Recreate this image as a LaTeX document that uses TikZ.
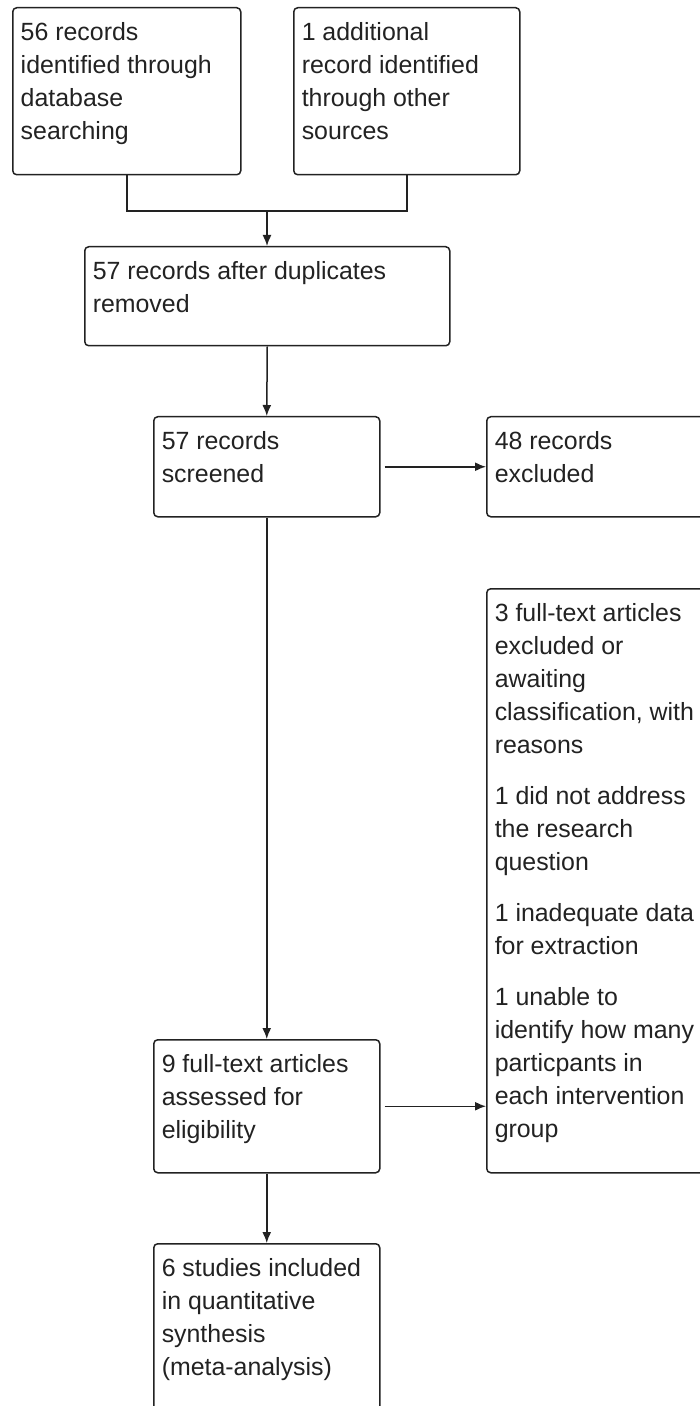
\documentclass[tikz,border=0pt]{standalone}
\usepackage{fontspec}
\setmainfont{Liberation Sans}
\usetikzlibrary{arrows.meta}
\definecolor{boxline}{HTML}{222222}
\definecolor{boxtext}{HTML}{222222}
\newlength\pxu
\setlength\pxu{0.5pt}
% text of a box: width, height (px), lines
\newcommand{\boxlines}[3]{\parbox[t][#2\pxu][t]{\dimexpr#1\pxu-16\pxu\relax}{\vspace{5pt}\raggedright\strut#3}}
\tikzset{
  box/.style={draw=boxline, line width=0.75pt, rounded corners=2pt, anchor=north west,
    inner xsep=4pt, inner ysep=0pt, text=boxtext, font=\fontsize{12.45pt}{16.5pt}\selectfont},
  link/.style={draw=boxline, line width=0.75pt},
  arr/.style={link, -{Latex[length=5.5pt,width=4.5pt]}}
}

\begin{document}
\begin{tikzpicture}[x=0.5pt, y=-0.5pt]
        \useasboundingbox (0,0) rectangle (700,1406);
        \clip (0,0) rectangle (700,1406);

        % draw boxes
        \node[box] (search) at (12,7) {\boxlines{228}{167}{56 records\\identified through\\database\\searching}};
        \node[box] (other) at (293,7) {\boxlines{226}{167}{1 additional\\record identified\\through other\\sources}};
        \node[box] (dedup) at (84,246) {\boxlines{365}{99}{57 records after duplicates\\removed}};
        \node[box] (screen) at (153,416) {\boxlines{226}{100}{57 records\\screened}};
        \node[box] (excl) at (486,416) {\boxlines{234}{100}{48 records\\excluded}};
        \node[box] (ftexcl) at (486,588) {\boxlines{234}{584}{3 full-text articles\\excluded or\\awaiting\\classification, with\\reasons\\[9pt]1 did not address\\the research\\question\\[9pt]1 inadequate data\\for extraction\\[9pt]1 unable to\\identify how many\\particpants in\\each intervention\\group}};
        \node[box] (fulltext) at (153,1039) {\boxlines{226}{133}{9 full-text articles\\assessed for\\eligibility}};
        \node[box] (incl) at (153,1243) {\boxlines{226}{200}{6 studies included\\in quantitative\\synthesis\\(meta-analysis)}};

        % draw connectors
        \coordinate (join) at (267,211);
        \draw[link] (search.south) |- (join) -| (other.south);
        \draw[arr] (join) -- (join |- dedup.north);
        \draw[arr] (dedup.south) -- (screen.north);
        \draw[arr, shorten <=2pt] (screen.east) -- (excl.west |- screen.east);
        \draw[arr] (screen.south) -- (fulltext.north);
        \draw[arr, shorten <=2pt] (fulltext.east) -- (ftexcl.west |- fulltext.east);
        \draw[arr] (fulltext.south) -- (incl.north);
\end{tikzpicture}
\end{document}
